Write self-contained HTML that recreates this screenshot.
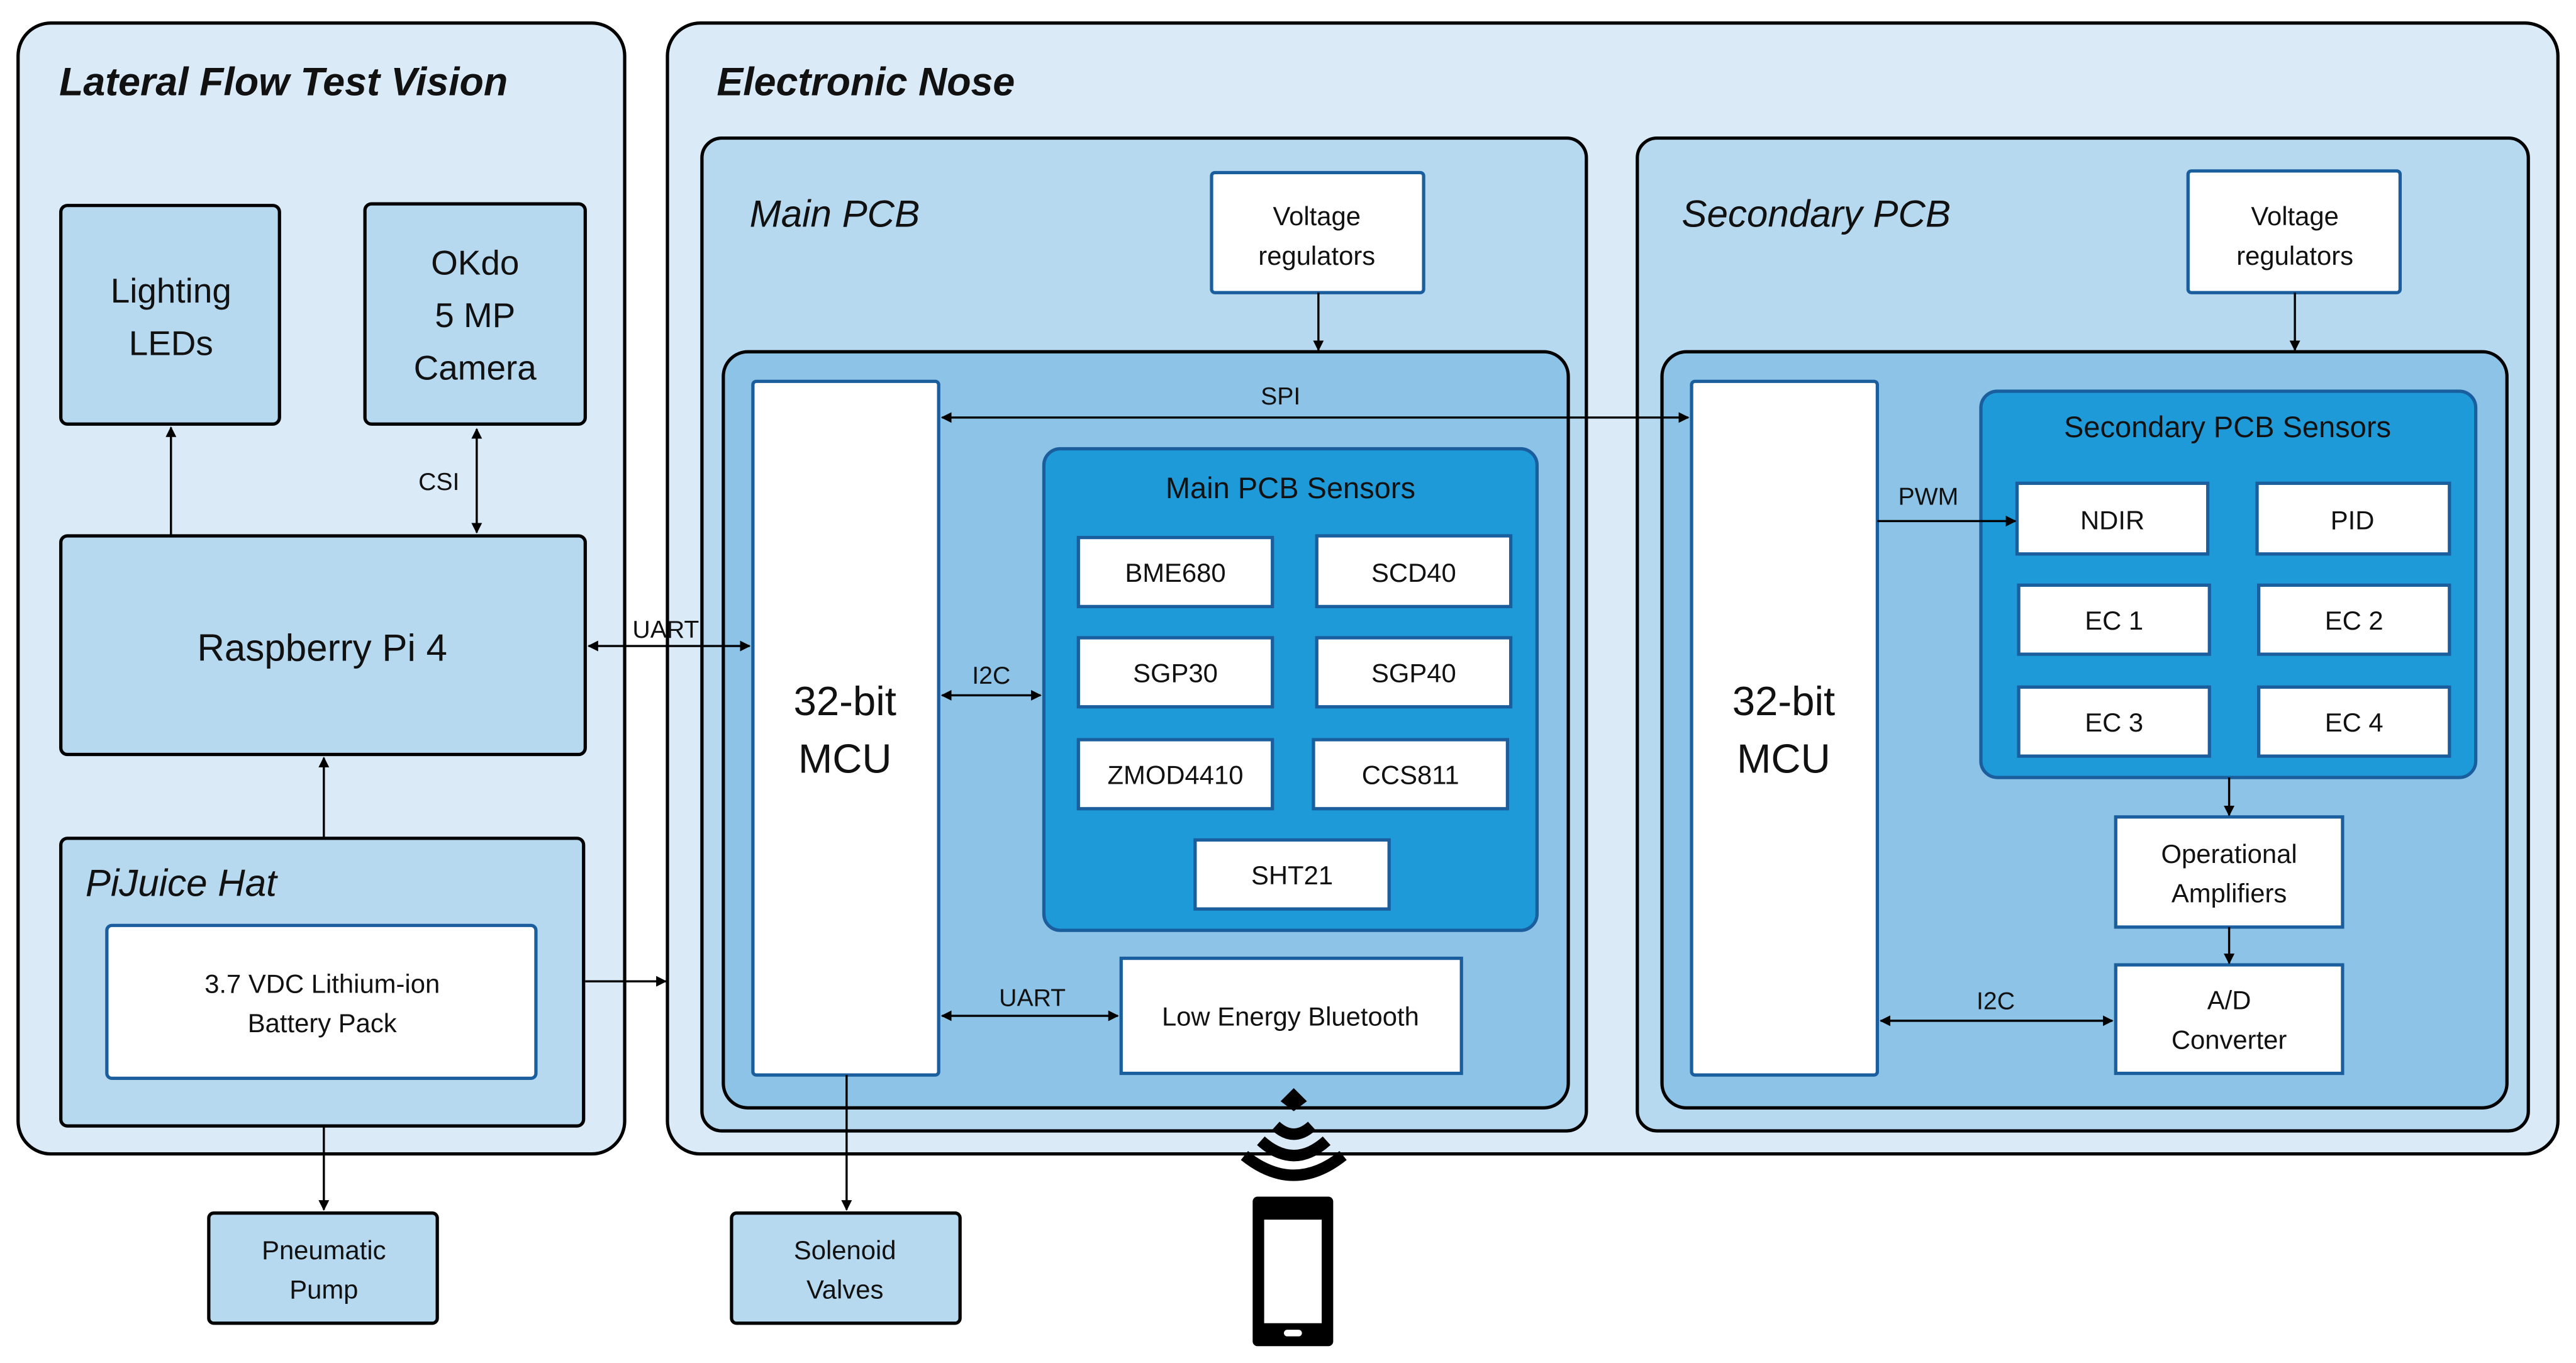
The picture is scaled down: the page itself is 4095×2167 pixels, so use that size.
<!DOCTYPE html>
<html><head><meta charset="utf-8"><style>
html,body{margin:0;padding:0;background:#fff;}
svg{display:block;}
text{font-family:"Liberation Sans",sans-serif;fill:#111;}
.c{text-anchor:middle;}
.t{font-weight:bold;font-style:italic;font-size:24px;}
.h{font-style:italic;font-size:23px;}
</style></head><body>
<svg width="4095" height="2167" viewBox="0 0 1567 829.2" xmlns="http://www.w3.org/2000/svg">
<defs>
<marker id="a" viewBox="0 0 10 10" refX="9" refY="5" markerWidth="5" markerHeight="5" orient="auto-start-reverse"><path d="M0,0 L10,5 L0,10 z" fill="#000"/></marker>
</defs>
<rect width="1567" height="829.2" fill="#fff"/>
<!-- LFTV -->
<rect x="11" y="14" width="369" height="688" rx="20" fill="#DAEAF7" stroke="#000" stroke-width="2"/>
<text x="36" y="58" class="t">Lateral Flow Test Vision</text>
<rect x="37" y="125" width="133" height="133" rx="4" fill="#B7D9F0" stroke="#000" stroke-width="2"/>
<text x="104" y="184" class="c" font-size="21">Lighting</text>
<text x="104" y="216" class="c" font-size="21">LEDs</text>
<rect x="222" y="124" width="134" height="134" rx="4" fill="#B7D9F0" stroke="#000" stroke-width="2"/>
<text x="289" y="167" class="c" font-size="21">OKdo</text>
<text x="289" y="199" class="c" font-size="21">5 MP</text>
<text x="289" y="231" class="c" font-size="21">Camera</text>
<rect x="37" y="326" width="319" height="133" rx="4" fill="#B7D9F0" stroke="#000" stroke-width="2"/>
<text x="196" y="402" class="c" font-size="23">Raspberry Pi 4</text>
<rect x="37" y="510" width="318" height="175" rx="4" fill="#B7D9F0" stroke="#000" stroke-width="2"/>
<text x="52" y="545" class="h">PiJuice Hat</text>
<rect x="65" y="563" width="261" height="93" rx="3" fill="#fff" stroke="#1A5E9E" stroke-width="2"/>
<text x="196" y="604" class="c" font-size="16">3.7 VDC Lithium-ion</text>
<text x="196" y="628" class="c" font-size="16">Battery Pack</text>
<text x="267" y="298" class="c" font-size="15">CSI</text>
<rect x="127" y="738" width="139" height="67" rx="3" fill="#B7D9F0" stroke="#000" stroke-width="2"/>
<text x="197" y="766" class="c" font-size="16">Pneumatic</text>
<text x="197" y="790" class="c" font-size="16">Pump</text>
<!-- E-Nose -->
<rect x="406" y="14" width="1150" height="688" rx="20" fill="#DAEAF7" stroke="#000" stroke-width="2"/>
<text x="436" y="58" class="t">Electronic Nose</text>
<!-- Main PCB -->
<rect x="427" y="84" width="538" height="604" rx="12" fill="#B7D9F0" stroke="#000" stroke-width="2"/>
<text x="456" y="138" class="h">Main PCB</text>
<rect x="737" y="105" width="129" height="73" rx="2" fill="#fff" stroke="#1A5E9E" stroke-width="2"/>
<text x="801" y="137" class="c" font-size="16">Voltage</text>
<text x="801" y="161" class="c" font-size="16">regulators</text>
<rect x="440" y="214" width="514" height="460" rx="15" fill="#8CC3E6" stroke="#000" stroke-width="2"/>
<rect x="458" y="232" width="113" height="422" rx="2" fill="#fff" stroke="#1A5E9E" stroke-width="2"/>
<text x="514" y="435" class="c" font-size="25">32-bit</text>
<text x="514" y="470" class="c" font-size="25">MCU</text>
<rect x="635" y="273" width="300" height="293" rx="10" fill="#1E9AD8" stroke="#1A5E9E" stroke-width="2"/>
<text x="785" y="303" class="c" font-size="18">Main PCB Sensors</text>
<g fill="#fff" stroke="#1A5E9E" stroke-width="2">
<rect x="656" y="327" width="118" height="42"/><rect x="801" y="326" width="118" height="43"/>
<rect x="656" y="388" width="118" height="42"/><rect x="801" y="388" width="118" height="42"/>
<rect x="656" y="450" width="118" height="42"/><rect x="799" y="450" width="118" height="42"/>
<rect x="727" y="511" width="118" height="42"/>
<rect x="682" y="583" width="207" height="70"/>
</g>
<text x="715" y="354" class="c" font-size="16">BME680</text><text x="860" y="354" class="c" font-size="16">SCD40</text>
<text x="715" y="415" class="c" font-size="16">SGP30</text><text x="860" y="415" class="c" font-size="16">SGP40</text>
<text x="715" y="477" class="c" font-size="16">ZMOD4410</text><text x="858" y="477" class="c" font-size="16">CCS811</text>
<text x="786" y="538" class="c" font-size="16">SHT21</text>
<text x="785" y="624" class="c" font-size="16">Low Energy Bluetooth</text>
<text x="779" y="246" class="c" font-size="15">SPI</text>
<text x="603" y="416" class="c" font-size="15">I2C</text>
<text x="628" y="612" class="c" font-size="15">UART</text>
<rect x="445" y="738" width="139" height="67" rx="3" fill="#B7D9F0" stroke="#000" stroke-width="2"/>
<text x="514" y="766" class="c" font-size="16">Solenoid</text>
<text x="514" y="790" class="c" font-size="16">Valves</text>
<!-- Secondary PCB -->
<rect x="996" y="84" width="542" height="604" rx="12" fill="#B7D9F0" stroke="#000" stroke-width="2"/>
<text x="1023" y="138" class="h">Secondary PCB</text>
<rect x="1331" y="104" width="129" height="74" rx="2" fill="#fff" stroke="#1A5E9E" stroke-width="2"/>
<text x="1396" y="137" class="c" font-size="16">Voltage</text>
<text x="1396" y="161" class="c" font-size="16">regulators</text>
<rect x="1011" y="214" width="514" height="460" rx="15" fill="#8CC3E6" stroke="#000" stroke-width="2"/>
<rect x="1029" y="232" width="113" height="422" rx="2" fill="#fff" stroke="#1A5E9E" stroke-width="2"/>
<text x="1085" y="435" class="c" font-size="25">32-bit</text>
<text x="1085" y="470" class="c" font-size="25">MCU</text>
<rect x="1205" y="238" width="301" height="235" rx="10" fill="#1E9AD8" stroke="#1A5E9E" stroke-width="2"/>
<text x="1355" y="266" class="c" font-size="18">Secondary PCB Sensors</text>
<g fill="#fff" stroke="#1A5E9E" stroke-width="2">
<rect x="1227" y="294" width="116" height="43"/><rect x="1373" y="294" width="117" height="43"/>
<rect x="1228" y="356" width="116" height="42"/><rect x="1374" y="356" width="116" height="42"/>
<rect x="1228" y="418" width="116" height="42"/><rect x="1374" y="418" width="116" height="42"/>
<rect x="1287" y="497" width="138" height="67"/>
<rect x="1287" y="587" width="138" height="66"/>
</g>
<text x="1285" y="322" class="c" font-size="16">NDIR</text><text x="1431" y="322" class="c" font-size="16">PID</text>
<text x="1286" y="383" class="c" font-size="16">EC 1</text><text x="1432" y="383" class="c" font-size="16">EC 2</text>
<text x="1286" y="445" class="c" font-size="16">EC 3</text><text x="1432" y="445" class="c" font-size="16">EC 4</text>
<text x="1356" y="525" class="c" font-size="16">Operational</text>
<text x="1356" y="549" class="c" font-size="16">Amplifiers</text>
<text x="1356" y="614" class="c" font-size="16">A/D</text>
<text x="1356" y="638" class="c" font-size="16">Converter</text>
<text x="1173" y="307" class="c" font-size="15">PWM</text>
<text x="1214" y="614" class="c" font-size="15">I2C</text>
<!-- connectors on top -->
<g stroke="#000" stroke-width="1.3" fill="none">
<line x1="104" y1="326" x2="104" y2="260" marker-end="url(#a)"/>
<line x1="290" y1="261" x2="290" y2="324" marker-start="url(#a)" marker-end="url(#a)"/>
<line x1="197" y1="510" x2="197" y2="461" marker-end="url(#a)"/>
<line x1="358" y1="393" x2="456" y2="393" marker-start="url(#a)" marker-end="url(#a)"/>
<line x1="356" y1="597" x2="405" y2="597" marker-end="url(#a)"/>
<line x1="197" y1="685" x2="197" y2="736" marker-end="url(#a)"/>
<line x1="802" y1="178" x2="802" y2="213" marker-end="url(#a)"/>
<line x1="573" y1="254" x2="1027" y2="254" marker-start="url(#a)" marker-end="url(#a)"/>
<line x1="573" y1="423" x2="633" y2="423" marker-start="url(#a)" marker-end="url(#a)"/>
<line x1="573" y1="618" x2="680" y2="618" marker-start="url(#a)" marker-end="url(#a)"/>
<line x1="515" y1="654" x2="515" y2="736" marker-end="url(#a)"/>
<line x1="1396" y1="178" x2="1396" y2="213" marker-end="url(#a)"/>
<line x1="1142" y1="317" x2="1226" y2="317" marker-end="url(#a)"/>
<line x1="1356" y1="473" x2="1356" y2="496" marker-end="url(#a)"/>
<line x1="1356" y1="564" x2="1356" y2="586" marker-end="url(#a)"/>
<line x1="1144" y1="621" x2="1285" y2="621" marker-start="url(#a)" marker-end="url(#a)"/>
</g>
<text x="405" y="388" class="c" font-size="15">UART</text>
<!-- wireless icon -->
<g fill="none" stroke="#000" stroke-width="7">
<path d="M776,685 Q787,695 798,685"/>
<path d="M767,694 Q787,712 807,694"/>
<path d="M757,703 Q787,727 817,703"/>
</g>
<path d="M787,662 L795,670 L787,676 L779,670 z" fill="#000"/>
<rect x="762" y="728" width="49" height="91" rx="3" fill="#000"/>
<rect x="769" y="742" width="35" height="63" fill="#fff"/>
<rect x="781" y="809" width="11" height="4" rx="2" fill="#fff"/>
</svg>
</body></html>
